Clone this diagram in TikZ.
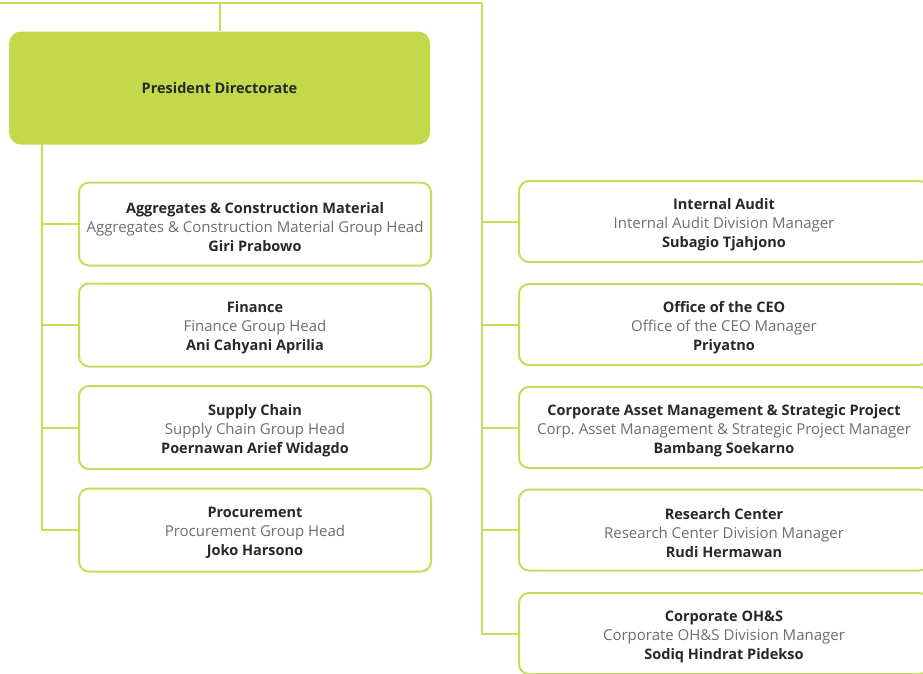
\documentclass[tikz,border=0pt]{standalone}
\usepackage{fontspec}
\setmainfont{Open Sans}
\frenchspacing
\definecolor{lime}{RGB}{195,217,75}
\definecolor{limeline}{RGB}{200,220,90}
\definecolor{txtdark}{RGB}{40,40,40}
\definecolor{txtgray}{RGB}{110,110,110}
\newcommand{\ttl}[1]{{\fontsize{14.5}{19}\selectfont\bfseries\color{txtdark}#1}}
\newcommand{\rolet}[1]{{\color{txtgray}#1}}
\begin{document}
\begin{tikzpicture}[x=1pt,y=-1pt,
  conn/.style={draw=limeline,line width=2pt},
  orgbox/.style={draw=limeline,line width=2pt,fill=white,rounded corners=10pt,inner sep=0pt},
  leftbox/.style={orgbox,minimum width=352pt,minimum height=83pt},
  rightbox/.style={orgbox,minimum width=410pt,minimum height=81pt},
  boxtext/.style={align=center,inner sep=0pt,font=\fontsize{15}{19}\selectfont},
  presbox/.style={fill=lime,rounded corners=12pt,minimum width=421pt,minimum height=113pt,
    align=center,font=\fontsize{14.5}{19}\selectfont\bfseries,text=txtdark}]
\useasboundingbox (0,0) rectangle (923,673);
\fill[white] (0,0) rectangle (923,673);
\coordinate (tl) at (0,3);
\coordinate (tr) at (482,3);
\coordinate (lx) at (42,144);

\node[presbox] (pres) at (219.5,88) {President Directorate};

\node[leftbox] (acm) at (255,224) {};
\node[boxtext] (acmt) at ([yshift=-3pt]acm.center) {\ttl{Aggregates \& Construction Material}\\\rolet{Aggregates \& Construction Material Group Head}\\\ttl{Giri Prabowo}};
\node[leftbox] (fin) at (255,325) {};
\node[boxtext] (fint) at ([yshift=-3pt]fin.center) {\ttl{Finance}\\\rolet{Finance Group Head}\\\ttl{Ani Cahyani Aprilia}};
\node[leftbox] (sup) at (255,427.5) {};
\node[boxtext] (supt) at ([yshift=-3pt]sup.center) {\ttl{Supply Chain}\\\rolet{Supply Chain Group Head}\\\ttl{Poernawan Arief Widagdo}};
\node[leftbox] (proc) at (255,530) {};
\node[boxtext] (proct) at ([yshift=-3pt]proc.center) {\ttl{Procurement}\\\rolet{Procurement Group Head}\\\ttl{Joko Harsono}};

\node[rightbox] (ia) at (724,221.5) {};
\node[boxtext] (iat) at ([yshift=-3pt]ia.center) {\ttl{Internal Audit}\\\rolet{Internal Audit Division Manager}\\\ttl{Subagio Tjahjono}};
\node[rightbox] (ceo) at (724,324.5) {};
\node[boxtext] (ceot) at ([yshift=-3pt]ceo.center) {\ttl{Office of the CEO}\\\rolet{Office of the CEO Manager}\\\ttl{Priyatno}};
\node[rightbox] (cam) at (724,427.5) {};
\node[boxtext] (camt) at ([yshift=-3pt]cam.center) {\ttl{Corporate Asset Management \& Strategic Project}\\\rolet{Corp. Asset Management \& Strategic Project Manager}\\\ttl{Bambang Soekarno}};
\node[rightbox] (rc) at (724,530) {};
\node[boxtext] (rct) at ([yshift=-3pt]rc.center) {\ttl{Research Center}\\\rolet{Research Center Division Manager}\\\ttl{Rudi Hermawan}};
\node[rightbox] (oh) at (724,633.5) {};
\node[boxtext] (oht) at ([yshift=-3pt]oh.center) {\ttl{Corporate OH\&S}\\\rolet{Corporate OH\&S Division Manager}\\\ttl{Sodiq Hindrat Pidekso}};

\draw[conn] (tl) -- (tr);
\draw[conn] (pres.north) -- (pres.north |- tl);
\draw[conn] (tr) |- (oh.west);
\foreach \n in {ia,ceo,cam,rc} \draw[conn] (tr |- \n.west) -- (\n.west);
\draw[conn] (lx) |- (proc.west);
\foreach \n in {acm,fin,sup} \draw[conn] (lx |- \n.west) -- (\n.west);
\end{tikzpicture}
\end{document}
